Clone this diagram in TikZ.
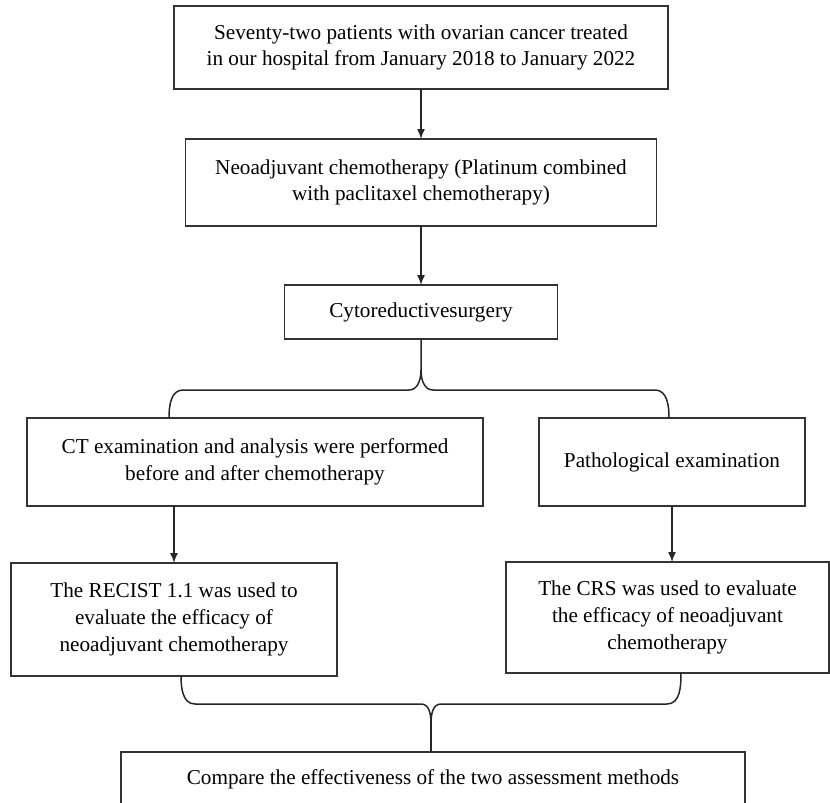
\documentclass[tikz,border=0pt]{standalone}
\usepackage{fontspec}
\setmainfont{Liberation Serif}
\usetikzlibrary{arrows.meta}
\usetikzlibrary{positioning}

\begin{document}
\begin{tikzpicture}[
				x=0.5pt, y=0.5pt,
				line width=0.75pt,
				font=\fontsize{10.6}{13.4}\selectfont,
				box/.style={draw=black!80, align=center, inner sep=0pt, outer sep=0pt},
				arrow/.style={draw=black!85, -{Latex[length=5pt, width=4pt]}},
				brace/.style={draw=black!85},
			]
				\useasboundingbox (0,0) rectangle (830,-803);

				\node (pat) [box, minimum width=247pt, minimum height=41.5pt] at (421,-47.5) {Seventy-two patients with ovarian cancer treated\\in our hospital from January 2018 to January 2022};
				\node (neo) [box, minimum width=235.5pt, minimum height=43.5pt, below=25pt of pat] {Neoadjuvant chemotherapy (Platinum combined\\with paclitaxel chemotherapy)};
				\node (cyto) [box, minimum width=136.5pt, minimum height=27pt, below=29.5pt of neo] {Cytoreductivesurgery};
				\node (ct) [box, minimum width=228pt, minimum height=44pt] at (255,-462) {CT examination and analysis were performed\\before and after chemotherapy};
				\node (path) [box, minimum width=133pt, minimum height=44pt] at (672,-462) {Pathological examination};
				\node (recist) [box, minimum width=163pt, minimum height=56.5pt] at (174,-619.5) {The RECIST 1.1 was used to\\evaluate the efficacy of\\neoadjuvant chemotherapy};
				\node (crs) [box, minimum width=161.5pt, minimum height=55.5pt] at (667.5,-617.5) {The CRS was used to evaluate\\the efficacy of neoadjuvant\\chemotherapy};
				\node (cmp) [box, minimum width=312pt, minimum height=27pt] at (433,-779) {Compare the effectiveness of the two assessment methods};

				% brace ends and tips
				\coordinate (upL) at (169,-418);
				\coordinate (upR) at (669,-418);
				\path (cyto.south) ++(0,-31) coordinate (upT);
				\coordinate (loL) at (181,-676);
				\coordinate (loR) at (681,-673);
				\coordinate (loT) at (431,-724);

				\draw[arrow] (pat) -- (neo);
				\draw[arrow] (neo) -- (cyto);
				\draw[arrow] (ct.south -| recist.north) -- (recist.north);
				\draw[arrow] (path.south) -- (path.south |- crs.north);

				\draw[brace] (cyto.south) -- (upT) to[out=-90,in=0] ++(-12,-20) -- (183,-390) to[out=180,in=90] (upL);
				\draw[brace] (upT) to[out=-90,in=180] ++(12,-20) -- (655,-390) to[out=0,in=90] (upR);
				\draw[brace] (loL) to[out=-90,in=180] (195,-704) -- (421,-704) to[out=0,in=90] (loT);
				\draw[brace] (loR) to[out=-90,in=0] (667,-704) -- (441,-704) to[out=180,in=90] (loT);
				\draw[brace] (loT) -- (loT |- cmp.north);
			\end{tikzpicture}
\end{document}
